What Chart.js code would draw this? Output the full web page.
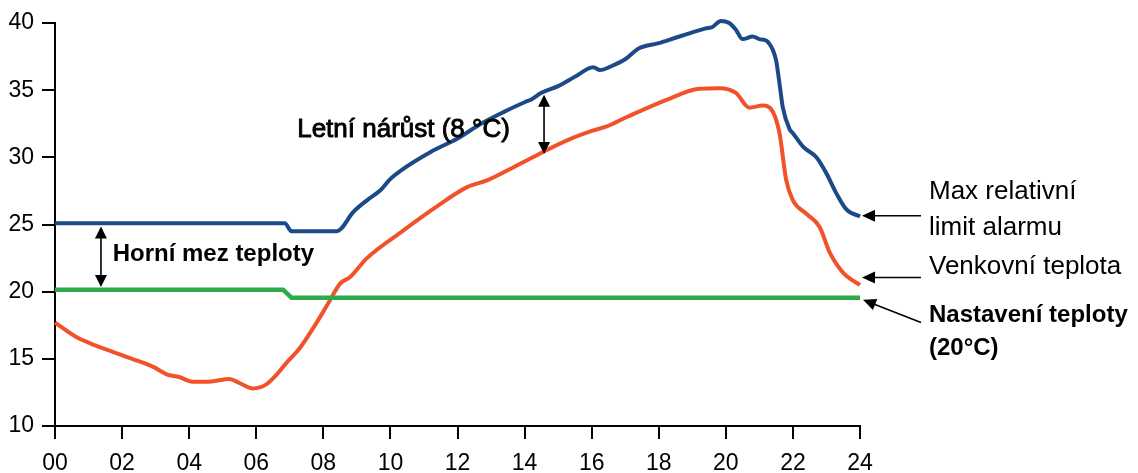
<!DOCTYPE html>
<html>
<head>
<meta charset="utf-8">
<script src="https://cdn.jsdelivr.net/npm/chart.js@4"></script>
<style>
  html, body { margin: 0; padding: 0; background: #fff; }
  #wrap { width: 1138px; height: 473px; }
</style>
</head>
<body>
<div id="wrap"><canvas id="c" width="1138" height="473"></canvas></div>
<script>
// ---- Data ----
const xTickLabels = ['00','02','04','06','08','10','12','14','16','18','20','22','24'];
const yTickValues = [10, 15, 20, 25, 30, 35, 40];

const alarmHours = [0, 6.85, 7.05, 8.4, 8.9, 9.3, 9.7, 10.0, 10.3, 11.2, 12.0, 12.7, 13.4, 14.0, 14.2, 14.5, 15.0, 15.5, 16.05, 16.25, 16.6, 17.0, 17.4, 18.0, 18.5, 19.0, 19.4, 19.6, 19.85, 20.1, 20.3, 20.5, 20.8, 21.0, 21.2, 21.4, 21.5, 21.6, 21.7, 21.9, 22.0, 22.3, 22.7, 23.0, 23.3, 23.6, 24.0];
const alarmValues = [25.1, 25.1, 24.5, 24.5, 25.95, 26.8, 27.55, 28.4, 29.0, 30.4, 31.4, 32.5, 33.4, 34.1, 34.3, 34.8, 35.3, 36.0, 36.7, 36.5, 36.8, 37.3, 38.1, 38.5, 38.9, 39.3, 39.6, 39.7, 40.15, 40.0, 39.5, 38.8, 39.0, 38.8, 38.7, 38.0, 37.2, 35.5, 33.7, 32.1, 31.8, 30.8, 30.0, 28.8, 27.3, 26.1, 25.6];

const outdoorHours = [0, 0.65, 1.2, 1.74, 2.3, 2.93, 3.33, 3.7, 4.1, 4.6, 5.2, 5.5, 5.9, 6.3, 6.6, 6.9, 7.3, 7.8, 8.15, 8.5, 8.8, 9.3, 10.3, 11.3, 12.3, 12.9, 13.7, 14.55, 15.3, 16.05, 16.45, 17.05, 18.25, 19.2, 19.8, 20.3, 20.7, 21.1, 21.4, 21.6, 21.8, 22.0, 22.4, 22.8, 23.1, 23.5, 24.0];
const outdoorValues = [17.7, 16.6, 16.0, 15.5, 15.0, 14.4, 13.85, 13.65, 13.3, 13.3, 13.5, 13.2, 12.8, 13.1, 13.8, 14.7, 15.8, 17.7, 19.15, 20.6, 21.1, 22.5, 24.4, 26.2, 27.8, 28.3, 29.3, 30.4, 31.3, 32.0, 32.3, 33.0, 34.3, 35.1, 35.15, 34.8, 33.7, 33.85, 33.4, 31.8, 28.3, 26.8, 25.8, 24.8, 22.9, 21.4, 20.5];

const setpointHours = [0, 6.8, 7.05, 24];
const setpointValues = [20.15, 20.15, 19.55, 19.55];

const labelAlarm = ['Max relativní', 'limit alarmu'];
const labelOutdoor = 'Venkovní teplota';
const labelSetpoint = ['Nastavení teploty', '(20°C)'];
const labelUpper = 'Horní mez teploty';
const labelSummer = 'Letní nárůst (8 °C)';

const BLUE = '#1c4a87';
const RED = '#f2522a';
const GREEN = '#2daa4a';
const FONT = '"Liberation Sans", Arial, sans-serif';

function pts(hs, vs) { return hs.map((h, i) => ({ x: h, y: vs[i] })); }

function arrowHead(ctx, tx, ty, angle, len, half) {
  ctx.save();
  ctx.translate(tx, ty);
  ctx.rotate(angle);
  ctx.beginPath();
  ctx.moveTo(0, 0);
  ctx.lineTo(-len, -half);
  ctx.lineTo(-len, half);
  ctx.closePath();
  ctx.fill();
  ctx.restore();
}

function doubleArrow(ctx, x, y1, y2) {
  ctx.beginPath();
  ctx.moveTo(x, y1 + 8);
  ctx.lineTo(x, y2 - 8);
  ctx.stroke();
  arrowHead(ctx, x, y1, -Math.PI / 2, 12, 6);
  arrowHead(ctx, x, y2, Math.PI / 2, 12, 6);
}

function leftArrow(ctx, x1, y1, x2, y2) {
  const ang = Math.atan2(y2 - y1, x2 - x1);
  ctx.beginPath();
  ctx.moveTo(x1, y1);
  ctx.lineTo(x2 - 8 * Math.cos(ang), y2 - 8 * Math.sin(ang));
  ctx.stroke();
  arrowHead(ctx, x2, y2, ang, 13, 6);
}

const annotations = {
  id: 'annotations',
  afterDatasetsDraw(chart) {
    const { ctx, scales: { x, y } } = chart;
    ctx.save();
    ctx.strokeStyle = '#000';
    ctx.fillStyle = '#000';
    ctx.lineWidth = 1.6;

    // double arrows
    doubleArrow(ctx, x.getPixelForValue(1.37), y.getPixelForValue(24.85), y.getPixelForValue(20.35));
    doubleArrow(ctx, x.getPixelForValue(14.58), y.getPixelForValue(34.65), y.getPixelForValue(30.25));

    ctx.textAlign = 'left';
    ctx.textBaseline = 'alphabetic';
    ctx.font = 'bold 24px ' + FONT;
    ctx.fillText(labelUpper, x.getPixelForValue(1.72), y.getPixelForValue(22.3));
    // medium-weight look: regular face with a thin outline
    ctx.font = '26px ' + FONT;
    const sx = x.getPixelForValue(7.22), sy = y.getPixelForValue(31.55);
    ctx.fillText(labelSummer, sx, sy);
    ctx.lineWidth = 0.9;
    ctx.strokeText(labelSummer, sx, sy);
    ctx.lineWidth = 1.6;

    // right side labels with arrows
    const rx = x.right;
    const tailX = rx + 61;
    const textX = rx + 69;
    leftArrow(ctx, tailX, y.getPixelForValue(25.65), rx + 2, y.getPixelForValue(25.65));
    leftArrow(ctx, tailX, y.getPixelForValue(21.05), rx + 2, y.getPixelForValue(21.05));
    leftArrow(ctx, tailX, y.getPixelForValue(17.7), rx + 3, y.getPixelForValue(19.4));

    ctx.font = '26px ' + FONT;
    ctx.fillText(labelAlarm[0], textX, y.getPixelForValue(26.9));
    ctx.fillText(labelAlarm[1], textX, y.getPixelForValue(24.2));
    ctx.fillText(labelOutdoor, textX, y.getPixelForValue(21.3));
    ctx.font = 'bold 24px ' + FONT;
    ctx.fillText(labelSetpoint[0], textX, y.getPixelForValue(17.75));
    ctx.fillText(labelSetpoint[1], textX, y.getPixelForValue(15.3));
    ctx.restore();
  }
};

const tickFont = { family: FONT, size: 23 };

new Chart(document.getElementById('c'), {
  type: 'line',
  data: {
    datasets: [
      { data: pts(setpointHours, setpointValues), borderColor: GREEN, borderWidth: 4.5, pointRadius: 0, tension: 0, clip: false },
      { data: pts(outdoorHours, outdoorValues), borderColor: RED, borderWidth: 4, pointRadius: 0, cubicInterpolationMode: 'monotone', clip: false },
      { data: pts(alarmHours, alarmValues), borderColor: BLUE, borderWidth: 4, pointRadius: 0, cubicInterpolationMode: 'monotone', clip: false }
    ]
  },
  options: {
    responsive: false,
    animation: false,
    events: [],
    layout: { padding: { top: 23, right: 278, left: 0, bottom: 0 } },
    plugins: { legend: { display: false }, tooltip: { enabled: false } },
    scales: {
      x: {
        type: 'linear',
        min: 0, max: 24,
        afterFit(s) { s.height = 47; },
        afterBuildTicks(s) { s.ticks = xTickLabels.map(t => ({ value: Number(t) })); },
        ticks: {
          autoSkip: false, maxRotation: 0, padding: 11, color: '#000', font: tickFont,
          callback: (v, i) => xTickLabels[i]
        },
        grid: { drawOnChartArea: false, drawTicks: true, tickLength: 13, color: '#000', lineWidth: 2 },
        border: { color: '#000', width: 2 }
      },
      y: {
        min: 10, max: 40,
        afterFit(s) { s.width = 55; },
        afterBuildTicks(s) { s.ticks = yTickValues.map(v => ({ value: v })); },
        ticks: { padding: 8, color: '#000', font: tickFont },
        grid: { drawOnChartArea: false, drawTicks: true, tickLength: 13, color: '#000', lineWidth: 2 },
        border: { color: '#000', width: 2 }
      }
    }
  },
  plugins: [annotations]
});
</script>
</body>
</html>
